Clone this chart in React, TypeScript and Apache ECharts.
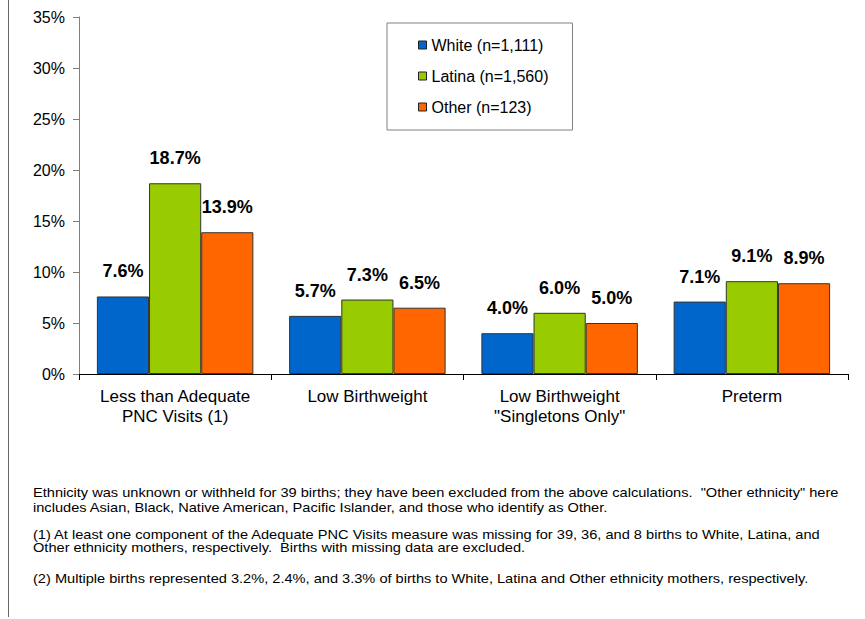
import React, { useEffect, useRef } from "react";
import * as echarts from "echarts";

const categories = [
  "Less than Adequate\nPNC Visits (1)",
  "Low Birthweight",
  "Low Birthweight\n\"Singletons Only\"",
  "Preterm",
];
const seriesNames = ["White (n=1,111)", "Latina (n=1,560)", "Other (n=123)"];
const whiteValues = [7.6, 5.7, 4.0, 7.1];
const latinaValues = [18.7, 7.3, 6.0, 9.1];
const otherValues = [13.9, 6.5, 5.0, 8.9];
const colors = ["#0066CC", "#99CC00", "#FF6600"];
const yTicks = [0, 5, 10, 15, 20, 25, 30, 35];

const footnote1 =
  "Ethnicity was unknown or withheld for 39 births; they have been excluded from the above calculations.  \"Other ethnicity\" here\nincludes Asian, Black, Native American, Pacific Islander, and those who identify as Other.";
const footnote2 =
  "(1) At least one component of the Adequate PNC Visits measure was missing for 39, 36, and 8 births to White, Latina, and\nOther ethnicity mothers, respectively.  Births with missing data are excluded.";
const footnote3 =
  "(2) Multiple births represented 3.2%, 2.4%, and 3.3% of births to White, Latina and Other ethnicity mothers, respectively.";

const FONT = "Arial, 'Liberation Sans', sans-serif";

export default function App() {
  const ref = useRef<HTMLDivElement>(null);
  useEffect(() => {
    document.body.style.margin = "0";
    if (!ref.current) return;
    const chart = echarts.init(ref.current, undefined, { renderer: "svg" });
    const values = [whiteValues, latinaValues, otherValues];
    const footStyle = (text: string, lh: number) => ({
      text,
      fontSize: 12.6,
      lineHeight: lh,
      fill: "#000",
      fontFamily: FONT,
      verticalAlign: "top",
      align: "left",
      x: 0,
      y: 0,
    });
    chart.setOption({
      animation: false,
      textStyle: { fontFamily: FONT },
      grid: { left: 79, right: 17, top: 17, bottom: 245, containLabel: false },
      legend: {
        orient: "vertical",
        left: 387,
        top: 23,
        itemWidth: 8,
        itemHeight: 8,
        itemGap: 15,
        padding: [14, 24, 15, 31],
        borderColor: "#808080",
        borderWidth: 1,
        icon: "rect",
        itemStyle: { borderColor: "#222", borderWidth: 1 },
        textStyle: { fontSize: 16, color: "#000", fontFamily: FONT },
        data: seriesNames,
      },
      xAxis: {
        type: "category",
        data: categories,
        axisLine: { lineStyle: { color: "#000", width: 1 } },
        axisTick: { show: true, length: 6, inside: false, lineStyle: { color: "#000" } },
        axisLabel: { interval: 0, fontSize: 17, color: "#000", lineHeight: 20, margin: 12, fontFamily: FONT },
      },
      yAxis: {
        type: "value",
        min: 0,
        max: 35,
        interval: 5,
        splitLine: { show: false },
        axisLine: { show: true, lineStyle: { color: "#808080", width: 1 } },
        axisTick: { show: true, length: 6, lineStyle: { color: "#808080" } },
        axisLabel: {
          fontSize: 16,
          color: "#000",
          margin: 14,
          fontFamily: FONT,
          formatter: (v: number) => (yTicks.includes(v) ? v + "%" : ""),
        },
      },
      series: values.map((vals, i) => ({
        name: seriesNames[i],
        type: "bar",
        data: vals,
        barGap: "0%",
        barCategoryGap: "18.6%",
        itemStyle: { color: colors[i], borderColor: "#333", borderWidth: 1 },
        label: {
          show: true,
          position: "top",
          distance: 16,
          fontSize: 18,
          fontWeight: "bold",
          color: "#000",
          fontFamily: FONT,
          formatter: (p: any) => p.value.toFixed(1) + "%",
        },
      })),
      graphic: [
        {
          type: "line",
          shape: { x1: 8.5, y1: 0, x2: 8.5, y2: 617 },
          style: { stroke: "#666", lineWidth: 1 },
        },
        { type: "text", x: 33, y: 486, scaleX: 1.16, style: footStyle(footnote1, 14.5) },
        { type: "text", x: 33, y: 528.5, scaleX: 1.16, style: footStyle(footnote2, 13) },
        { type: "text", x: 33, y: 572, scaleX: 1.16, style: footStyle(footnote3, 14.5) },
      ],
    });
    return () => chart.dispose();
  }, []);
  return <div ref={ref} style={{ width: 865, height: 619 }} />;
}
